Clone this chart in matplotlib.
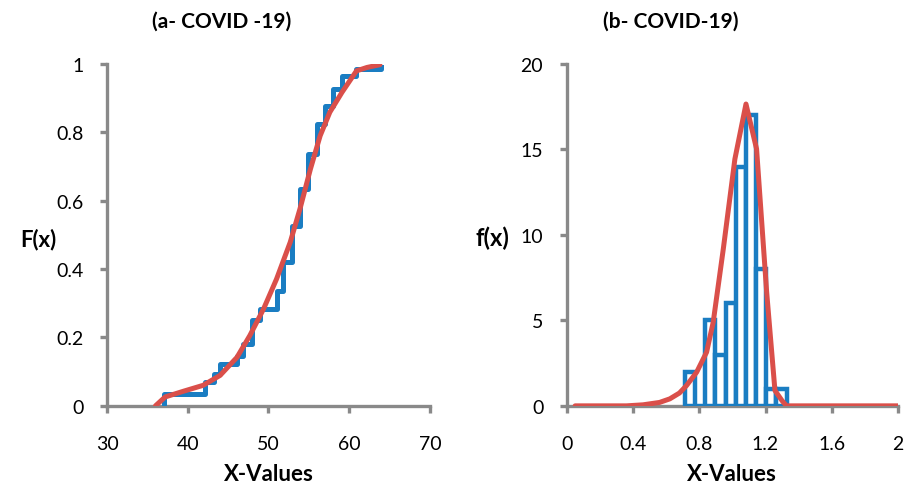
import numpy as np
import matplotlib.pyplot as plt

plt.rcParams['font.family'] = ['Lato', 'DejaVu Sans']

# (a) empirical CDF steps and fitted CDF
step_x = [37.0, 42.1, 43.2, 44.0, 46.1, 46.9, 47.9, 49.0, 51.0, 51.8, 52.9,
          53.9, 54.9, 56.0, 57.0, 58.0, 59.1, 60.9, 64.0]
step_F = [0.035, 0.069, 0.094, 0.123, 0.147, 0.18, 0.25, 0.284, 0.337, 0.42,
          0.527, 0.634, 0.737, 0.825, 0.878, 0.927, 0.966, 0.985, 0.99]
fit_x = [36.0, 37.2, 39.5, 41.9, 44.0, 46.1, 47.7, 49.4, 51.0, 52.7, 53.9,
         55.2, 56.4, 57.6, 59.1, 60.9, 62.2, 63.8]
fit_F = [0.0, 0.026, 0.043, 0.06, 0.089, 0.142, 0.206, 0.284, 0.371, 0.479,
         0.576, 0.693, 0.79, 0.859, 0.917, 0.98, 0.99, 0.998]

# (b) histogram (counts) and fitted density
bin_edges = [0.713, 0.774, 0.836, 0.897, 0.959, 1.020, 1.081, 1.143, 1.204,
             1.266, 1.327]
bin_counts = [2, 0, 5, 3, 6, 14, 17, 8, 1, 1]
pdf_x = [0.05, 0.36, 0.46, 0.56, 0.622, 0.68, 0.723, 0.784, 0.844, 0.884,
         0.945, 1.015, 1.082, 1.146, 1.207, 1.257, 1.30, 1.327, 2.0]
pdf_y = [0.0, 0.0, 0.06, 0.2, 0.41, 0.75, 1.19, 1.97, 3.14, 4.89, 9.18,
         14.44, 17.66, 15.03, 6.65, 0.9, 0.3, 0.0, 0.0]

blue = '#1A7DC2'
red = '#DA4F4A'
gray = '#898989'

fig = plt.figure(figsize=(9.07, 4.89), dpi=100)
ax1 = fig.add_axes([0.118, 0.168, 0.356, 0.699])
ax2 = fig.add_axes([0.625, 0.168, 0.365, 0.699])

ax1.step([step_x[0]] + step_x, [0] + step_F, where='post', color=blue, lw=3.6)
ax1.plot(fit_x, fit_F, color=red, lw=3.6, solid_capstyle='round')
ax1.set_xlim(30, 70)
ax1.set_ylim(0, 1)
ax1.set_xticks([30, 40, 50, 60, 70])
ax1.set_yticks([0, 0.2, 0.4, 0.6, 0.8, 1])
ax1.set_yticklabels(['0', '0.2', '0.4', '0.6', '0.8', '1'])

widths = np.diff(bin_edges)
ax2.bar(bin_edges[:-1], bin_counts, width=widths, align='edge',
        facecolor='white', edgecolor=blue, linewidth=3.2)
ax2.plot(pdf_x, pdf_y, color=red, lw=3.6, solid_capstyle='round')
ax2.set_xlim(0, 2)
ax2.set_ylim(0, 20)
ax2.set_xticks([0, 0.4, 0.8, 1.2, 1.6, 2])
ax2.set_xticklabels(['0', '0.4', '0.8', '1.2', '1.6', '2'])
ax2.set_yticks([0, 5, 10, 15, 20])

for ax in (ax1, ax2):
    for s in ('top', 'right'):
        ax.spines[s].set_visible(False)
    for s in ('left', 'bottom'):
        ax.spines[s].set_color(gray)
        ax.spines[s].set_linewidth(2.4)
    ax.tick_params(axis='both', colors=gray, length=5, width=2.4,
                   labelcolor='black', labelsize=14)
    ax.tick_params(axis='x', pad=16)
    ax.tick_params(axis='y', pad=12)
    ax.set_xlabel('X-Values', fontsize=16, fontweight='bold', labelpad=8)
    for sp in ax.spines.values():
        sp.set_zorder(0)

fig.text(0.244, 0.955, '(a- COVID -19)', fontsize=15, fontweight='bold',
         ha='center', va='center')
fig.text(0.739, 0.955, '(b- COVID-19)', fontsize=15, fontweight='bold',
         ha='center', va='center')
fig.text(0.042, 0.51, 'F(x)', fontsize=16, fontweight='bold',
         ha='center', va='center')
fig.text(0.543, 0.513, 'f(x)', fontsize=17, fontweight='bold',
         ha='center', va='center')

fig.savefig('out.png', dpi=100)
